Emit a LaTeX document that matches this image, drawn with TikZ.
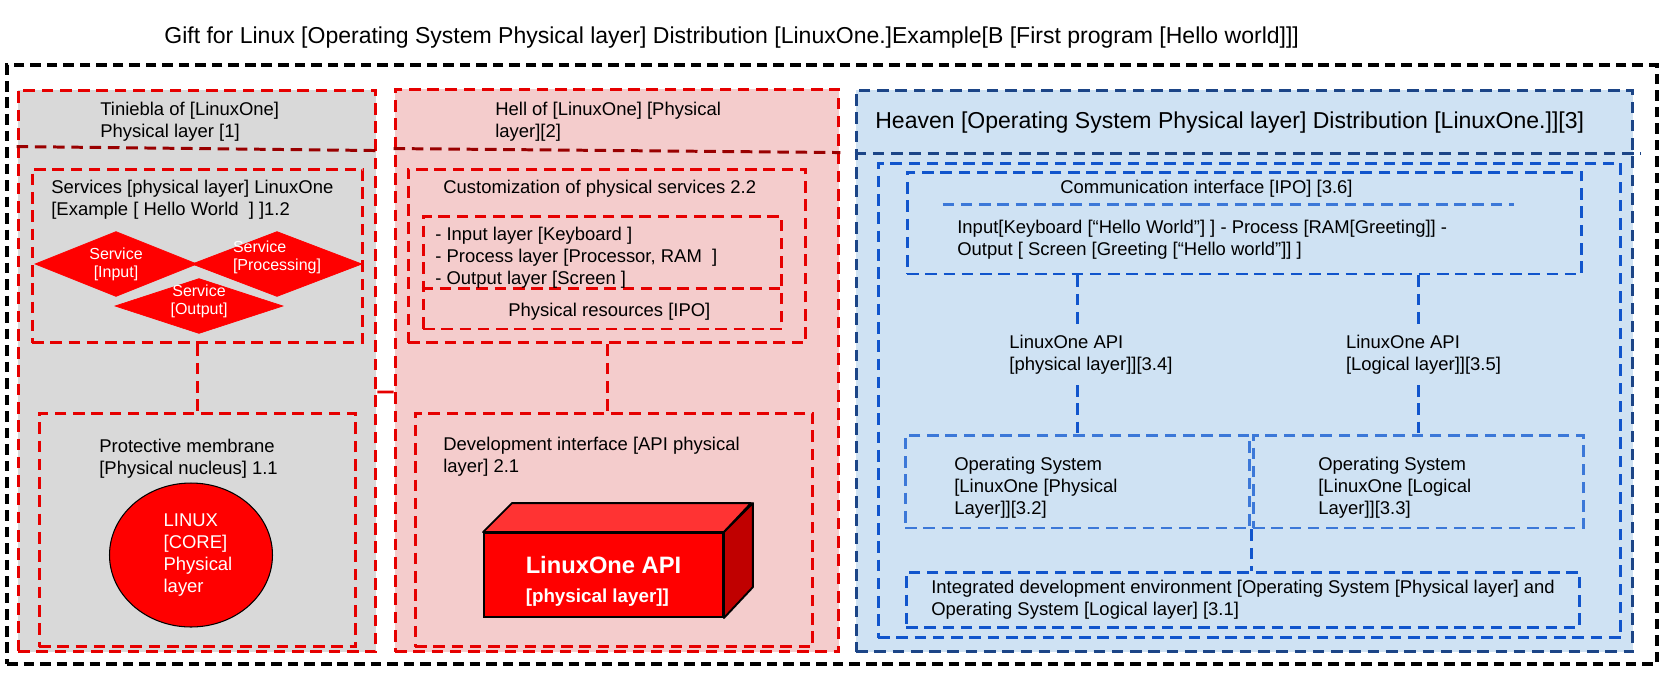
\documentclass[tikz,border=0pt]{standalone}
\usepackage{fontspec}
\setmainfont{Liberation Sans}
\usetikzlibrary{shapes.geometric}
\definecolor{boxred}{HTML}{E60000}
\definecolor{darkred}{HTML}{990000}
\definecolor{grayfill}{HTML}{D9D9D9}
\definecolor{pinkfill}{HTML}{F4CCCC}
\definecolor{bluefill}{HTML}{CFE2F3}
\definecolor{navy}{HTML}{1C4587}
\definecolor{boxblue}{HTML}{1155CC}
\definecolor{lightblue}{HTML}{3C78D8}
\definecolor{apitop}{HTML}{FF3333}
\definecolor{apiside}{HTML}{C00000}

\begin{document}
\begin{tikzpicture}[x=0.02cm, y=-0.02cm,
    every node/.style={inner sep=0pt},
    redbox/.style={draw=boxred, line width=1.7pt, dash pattern=on 6.6pt off 3.8pt},
    bluebox/.style={draw=boxblue, line width=1.7pt, dash pattern=on 6.6pt off 3.8pt},
    divider/.style={draw=darkred, line width=1.7pt, dash pattern=on 6.6pt off 3.8pt},
    service/.style={diamond, fill=red, draw=red, line width=0.4pt},
    servicetxt/.style={align=center, text=white, font=\fontsize{9.1}{10.2}\selectfont},
    txt/.style={anchor=north west, align=left, font=\fontsize{10.5}{12.5}\selectfont},
    bigtxt/.style={anchor=north west, align=left, font=\fontsize{13.1}{15.5}\selectfont},
    apilbl/.style={fill=bluefill, inner sep=3pt, align=left, font=\fontsize{10.5}{12.5}\selectfont}]
    \useasboundingbox (0,0) rectangle (1677,677);

    \node[bigtxt] (title) at (164,26) {Gift for Linux [Operating System Physical layer] Distribution [LinuxOne.]Example[B [First program [Hello world]]]};

    \node[draw=black, line width=1.9pt, dash pattern=on 6pt off 3.4pt, minimum width=33cm, minimum height=11.98cm] (frame) at (832,364.5) {};

    % tiniebla
    \node[redbox, fill=grayfill, minimum width=7.16cm, minimum height=11.24cm] (tiniebla) at (197,371) {};
    \draw[divider] ([yshift=-1.16cm]tiniebla.north west) -- ([yshift=-1.24cm]tiniebla.north east);
    \node[redbox, minimum width=6.62cm, minimum height=3.48cm] (services) at (197.5,256) {};
    \node[redbox, minimum width=6.34cm, minimum height=4.68cm] (membrane) at (197.5,530) {};
    \node[service, minimum width=3.24cm, minimum height=1.3cm] (input) at (116,264) {};
    \node[service, minimum width=3.4cm, minimum height=1.3cm] (processing) at (277,264) {};
    \node[service, minimum width=3.36cm, minimum height=1.1cm] (output) at (199,306) {};
    \node[servicetxt] (inputtxt) at (input) {Service\\{}[Input]};
    \node[servicetxt, align=left] (processingtxt) at ([yshift=0.14cm]processing.center) {Service\\{}[Processing]};
    \node[servicetxt] (outputtxt) at ([yshift=0.1cm]output.center) {Service\\{}[Output]};
    \node[ellipse, fill=red, draw=black, line width=0.6pt, minimum width=3.26cm, minimum height=2.88cm] (core) at (191,555) {};
    \node[align=left, text=white, font=\fontsize{10.5}{12.5}\selectfont] (coretxt) at ([xshift=0.14cm]core.center) {LINUX\\{}[CORE]\\Physical\\layer};
    \draw[redbox] (services.south) -- (membrane.north);

    \node[txt] (tinieblatxt) at (100,101.5) {Tiniebla of [LinuxOne]\\Physical layer [1]};
    \node[txt] (servicestxt) at (51,179.5) {Services [physical layer] LinuxOne\\{}[Example [ Hello World~~]~]1.2};
    \node[txt] (membranetxt) at (99,438.5) {Protective membrane\\{}[Physical nucleus] 1.1};

    % hell
    \node[redbox, fill=pinkfill, minimum width=8.88cm, minimum height=11.26cm] (hell) at (617,370.5) {};
    \draw[divider] ([yshift=-1.22cm]hell.north west) -- ([yshift=-1.3cm]hell.north east);
    \node[redbox, minimum width=7.96cm, minimum height=3.48cm] (custom) at (607,256) {};
    \node[redbox, minimum width=7.18cm, minimum height=2.26cm] (resources) at (602.5,272.5) {};
    \draw[redbox] ([yshift=-1.48cm]resources.north west) -- ([yshift=-1.48cm]resources.north east);
    \node[redbox, minimum width=7.96cm, minimum height=4.68cm] (devif) at (614,530) {};
    \draw[redbox] (custom.south) -- (custom.south |- devif.north);

    \node[draw=black, line width=1.1pt, fill=red, minimum width=4.78cm, minimum height=1.68cm] (api) at (603.5,575) {};
    \draw[black, line width=1.1pt, line join=round, fill=apitop] (api.north west) -- ++(29,-29) -- ++(239,0) -- (api.north east) -- cycle;
    \draw[black, line width=1.1pt, line join=round, fill=apiside] (api.north east) -- ++(29,-29) -- ++(0,84) -- (api.south east) -- cycle;
    \node[align=left, text=white, font=\bfseries\fontsize{13.5}{16.5}\selectfont] (apitxt) at ([yshift=-0.12cm]api.center) {LinuxOne API\\{\fontsize{10.7}{13}\selectfont [physical layer]]}};

    \node[txt] (helltxt) at (495,101.5) {Hell of [LinuxOne] [Physical\\layer][2]};
    \node[txt] (customtxt) at (443,179.5) {Customization of physical services 2.2};
    \node[txt] (layerstxt) at (435,226.5) {- Input layer [Keyboard ]\\- Process layer [Processor, RAM~~]\\- Output layer [Screen ]};
    \node[txt] (resourcestxt) at (508,302.5) {Physical resources [IPO]};
    \node[txt] (deviftxt) at (443,436.5) {Development interface [API physical\\layer] 2.1};

    \draw[boxred, line width=1.7pt] ([yshift=-0.42cm]tiniebla.east) -- ([yshift=-0.43cm]hell.west);

    % heaven
    \node[bluebox, draw=navy, fill=bluefill, minimum width=15.54cm, minimum height=11.24cm] (heaven) at (1244.5,371) {};
    \draw[bluebox, draw=navy] ([yshift=-1.3cm]heaven.north west) -- ([yshift=-1.3cm, xshift=0.14cm]heaven.north east);
    \node[bluebox, minimum width=14.86cm, minimum height=9.5cm] (distro) at (1249.5,400.5) {};
    \node[bluebox, minimum width=13.5cm, minimum height=2.04cm] (comm) at (1244.5,223) {};
    \draw[bluebox, draw=lightblue] ([xshift=0.74cm, yshift=-0.68cm]comm.north west) -- ([xshift=-1.38cm, yshift=-0.68cm]comm.north east);
    \node[bluebox, draw=lightblue, minimum width=6.9cm, minimum height=1.86cm] (osphys) at (1077.5,481.5) {};
    \node[bluebox, draw=lightblue, minimum width=6.62cm, minimum height=1.86cm] (oslog) at (1418.5,481.5) {};
    \node[bluebox, minimum width=13.48cm, minimum height=1.1cm] (ide) at (1243,599.5) {};

    \draw[bluebox] (osphys.north |- comm.south) -- node[apilbl, xshift=0.27cm] (apiphys) {LinuxOne API\\{}[physical layer]][3.4]} (osphys.north);
    \draw[bluebox] (oslog.north |- comm.south) -- node[apilbl, xshift=0.1cm] (apilog) {LinuxOne API\\{}[Logical layer]][3.5]} (oslog.north);
    \draw[bluebox] (osphys.south east) -- (osphys.south east |- ide.north);

    \node[bigtxt] (heaventxt) at (875,111) {Heaven [Operating System Physical layer] Distribution [LinuxOne.]][3]};
    \node[txt] (commtxt) at (1060,179.5) {Communication interface [IPO] [3.6]};
    \node[txt] (ipotxt) at (957,219.5) {Input[Keyboard [“Hello World”] ] - Process [RAM[Greeting]] -\\Output [ Screen [Greeting [“Hello world”]] ]};
    \node[txt] (osphystxt) at (954,456.5) {Operating System\\{}[LinuxOne [Physical\\Layer]][3.2]};
    \node[txt] (oslogtxt) at (1318,456.5) {Operating System\\{}[LinuxOne [Logical\\Layer]][3.3]};
    \node[txt] (idetxt) at (931,579.5) {Integrated development environment [Operating System [Physical layer] and\\Operating System [Logical layer] [3.1]};
\end{tikzpicture}
\end{document}
